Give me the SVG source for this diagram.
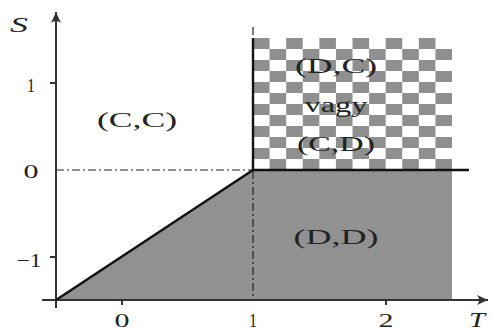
<svg xmlns="http://www.w3.org/2000/svg" width="492" height="331" viewBox="0 0 492 331">
<style>
text { font-family: "Liberation Serif", "Times New Roman", serif; fill: #222; }
.lbl { font-size: 21px; text-anchor: middle; }
.num { font-size: 19px; text-anchor: middle; }
.it { font-size: 21px; font-style: italic; text-anchor: middle; }
.axis { stroke: #333; stroke-width: 2; fill: none; }
.bold { stroke: #111; stroke-width: 2.4; fill: none; }
.dd { stroke: #222; stroke-width: 1.2; stroke-dasharray: 8 3 2 3; fill: none; }
</style>
<defs>
<pattern id="chk" patternUnits="userSpaceOnUse" x="253" y="38" width="33.17" height="22">
<rect width="33.17" height="22" fill="#fff"/>
<rect x="0" y="0" width="16.58" height="11" fill="#8f8f8f"/>
<rect x="16.58" y="11" width="16.59" height="11" fill="#8f8f8f"/>
</pattern>
<marker id="arr" markerWidth="14" markerHeight="12" refX="12" refY="6" orient="auto" markerUnits="userSpaceOnUse">
<path d="M12,6 L1,1 Q5,6 1,11 Z" fill="#333"/>
</marker>
</defs>
<g id="regions">
<polygon id="dd-region" points="56,300 253,170 452,170 452,300" fill="#919191"/>
<rect id="mixed-region" x="253" y="38" width="199" height="132" fill="url(#chk)"/>
</g>
<g id="connectors">
<line class="dd" x1="253" y1="27" x2="253" y2="300"/>
<line class="dd" x1="56" y1="170" x2="253" y2="170"/>
<line class="axis" x1="56" y1="308" x2="56" y2="12" marker-end="url(#arr)"/>
<line class="axis" x1="42" y1="300" x2="488" y2="300" marker-end="url(#arr)"/>
<line class="axis" x1="50" y1="83" x2="56" y2="83"/>
<line class="axis" x1="50" y1="257" x2="56" y2="257"/>
<line class="axis" x1="122" y1="300" x2="122" y2="305"/>
<line class="axis" x1="386" y1="300" x2="386" y2="305"/>
<line class="bold" x1="56" y1="300" x2="253" y2="170"/>
<line class="bold" x1="253" y1="170" x2="469" y2="170"/>
<line class="bold" x1="253" y1="38" x2="253" y2="170"/>
</g>
<g id="labels">
<text class="it" x="19" y="32" textLength="18" lengthAdjust="spacingAndGlyphs">S</text>
<text class="it" x="477" y="327" textLength="16" lengthAdjust="spacingAndGlyphs">T</text>
<text class="num" x="31" y="92" textLength="8" lengthAdjust="spacingAndGlyphs">1</text>
<text class="num" x="31" y="178" textLength="15" lengthAdjust="spacingAndGlyphs">0</text>
<text class="num" x="29" y="267" textLength="25" lengthAdjust="spacingAndGlyphs">−1</text>
<text class="num" x="122" y="327" textLength="15" lengthAdjust="spacingAndGlyphs">0</text>
<text class="num" x="253" y="327" textLength="8" lengthAdjust="spacingAndGlyphs">1</text>
<text class="num" x="386" y="327" textLength="15" lengthAdjust="spacingAndGlyphs">2</text>
<text class="lbl" x="137" y="127" textLength="80" lengthAdjust="spacingAndGlyphs">(C,C)</text>
<text class="lbl" x="336" y="73" textLength="82" lengthAdjust="spacingAndGlyphs">(D,C)</text>
<text class="lbl" x="336" y="112" textLength="63" lengthAdjust="spacingAndGlyphs">vagy</text>
<text class="lbl" x="336" y="151" textLength="78" lengthAdjust="spacingAndGlyphs">(C,D)</text>
<text class="lbl" x="336" y="244" textLength="85" lengthAdjust="spacingAndGlyphs">(D,D)</text>
</g>
</svg>
